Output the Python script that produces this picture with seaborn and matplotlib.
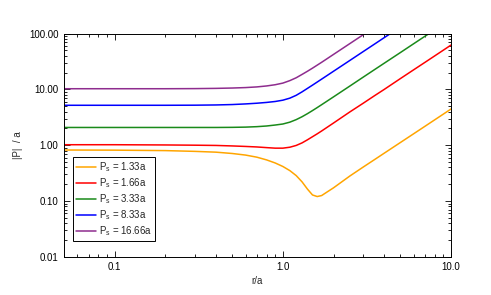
import numpy as np
import pandas as pd
import matplotlib
matplotlib.use("Agg")
import matplotlib.pyplot as plt
import seaborn as sns
from matplotlib.ticker import LogLocator, NullFormatter

# r/a sample points (shared by all curves)
r = [0.05, 0.1, 0.2, 0.3, 0.4, 0.5, 0.6, 0.7, 0.8, 0.9, 1.0, 1.1, 1.2, 1.3, 1.4,
     1.5, 1.6, 1.7, 1.8, 2.0, 2.5, 3.0, 3.5, 4.0, 5.0, 6.0, 7.0, 8.0, 10.0]

p_133 = [0.82, 0.815, 0.80, 0.775, 0.75, 0.71, 0.665, 0.61, 0.545, 0.48, 0.415, 0.35,
         0.285, 0.22, 0.163, 0.128, 0.12, 0.125, 0.14, 0.172, 0.28, 0.405, 0.55, 0.718,
         1.12, 1.61, 2.19, 2.86, 4.47]
p_166 = [1.02, 1.02, 1.01, 1.0, 0.99, 0.97, 0.95, 0.93, 0.905, 0.885, 0.885, 0.92, 0.99,
         1.1, 1.25, 1.42, 1.6, 1.8, 2.02, 2.5, 3.95, 5.65, 7.7, 10.0, 15.7, 22.6, 30.7,
         40.1, 62.7]
p_333 = [2.08, 2.08, 2.08, 2.08, 2.08, 2.09, 2.11, 2.15, 2.21, 2.3, 2.4, 2.59, 2.875,
         3.24, 3.68, 4.18, 4.73, 5.33, 5.97, 7.36, 11.5, 16.6, 22.6, 29.5, 46.0, 66.3,
         90.2, 117.8, 184.0]
p_833 = [5.2, 5.2, 5.2, 5.22, 5.27, 5.36, 5.5, 5.66, 5.85, 6.08, 6.42, 6.98, 7.85, 9.05,
         10.45, 11.95, 13.58, 15.32, 17.17, 21.2, 33.1, 47.7, 64.9, 84.8, 132.5, 190.8,
         259.7, 339.0, 530.0]
p_1666 = [10.3, 10.3, 10.3, 10.35, 10.45, 10.6, 10.8, 11.1, 11.55, 12.15, 13.0, 14.4,
          16.2, 18.6, 21.2, 24.1, 27.3, 30.7, 34.4, 42.5, 66.4, 95.6, 130.0, 170.0, 266.0,
          382.0, 520.0, 680.0, 1062.0]

labels = ["P$_s$ = 1.33a", "P$_s$ = 1.66a", "P$_s$ = 3.33a", "P$_s$ = 8.33a", "P$_s$ = 16.66a"]
colors = ["#ffa500", "#ff0000", "#1a8a1a", "#0000ff", "#8e2c8e"]

xticks = [0.1, 1.0, 10.0]
xticklabels = ["0.1", "1.0", "10.0"]
yticks = [0.01, 0.1, 1.0, 10.0, 100.0]
yticklabels = ["0.01", "0.10", "1.00", "10.00", "100.00"]

frames = []
for lab, vals in zip(labels, [p_133, p_166, p_333, p_833, p_1666]):
    frames.append(pd.DataFrame({"r": r, "P": vals, "curve": lab}))
df = pd.concat(frames, ignore_index=True)

sns.set_style("ticks")
plt.rcParams["font.family"] = ["Liberation Sans", "DejaVu Sans"]
plt.rcParams["mathtext.default"] = "regular"

fig = plt.figure(figsize=(4.91, 2.95), dpi=100)
ax = fig.add_axes([0.1303, 0.1298, 0.7885, 0.756])

sns.lineplot(data=df, x="r", y="P", hue="curve", palette=dict(zip(labels, colors)),
             sort=False, estimator=None, linewidth=1.1, ax=ax)

ax.set_xscale("log")
ax.set_yscale("log")
ax.set_xlim(0.05, 10.0)
ax.set_ylim(0.01, 100.0)

ax.set_xticks(xticks)
ax.set_xticklabels(xticklabels)
ax.set_yticks(yticks)
ax.set_yticklabels(yticklabels)
ax.xaxis.set_minor_locator(LogLocator(base=10, subs=np.arange(2, 10)))
ax.yaxis.set_minor_locator(LogLocator(base=10, subs=np.arange(2, 10)))
ax.xaxis.set_minor_formatter(NullFormatter())
ax.yaxis.set_minor_formatter(NullFormatter())

ax.tick_params(which="both", direction="in", top=True, right=True, width=0.6,
               labelsize=7, colors="black")
ax.tick_params(which="major", length=4)
ax.tick_params(which="minor", length=2.2)
ax.tick_params(axis="x", pad=4)
ax.tick_params(axis="y", pad=4)
for sp in ax.spines.values():
    sp.set_visible(True)
    sp.set_linewidth(0.7)
    sp.set_color("black")

ax.set_xlabel("r/a", fontsize=7, labelpad=3)
ax.set_ylabel("|P|  / a", fontsize=7, labelpad=4)

leg = ax.legend(loc="lower left", bbox_to_anchor=(0.024, 0.072), borderaxespad=0,
                fontsize=7, frameon=True, fancybox=False, framealpha=1,
                handlelength=2.0, handletextpad=0.3, labelspacing=0.22,
                borderpad=0.3)
leg.get_frame().set_edgecolor("black")
leg.get_frame().set_linewidth(0.7)

fig.savefig("out.png", dpi=100)
